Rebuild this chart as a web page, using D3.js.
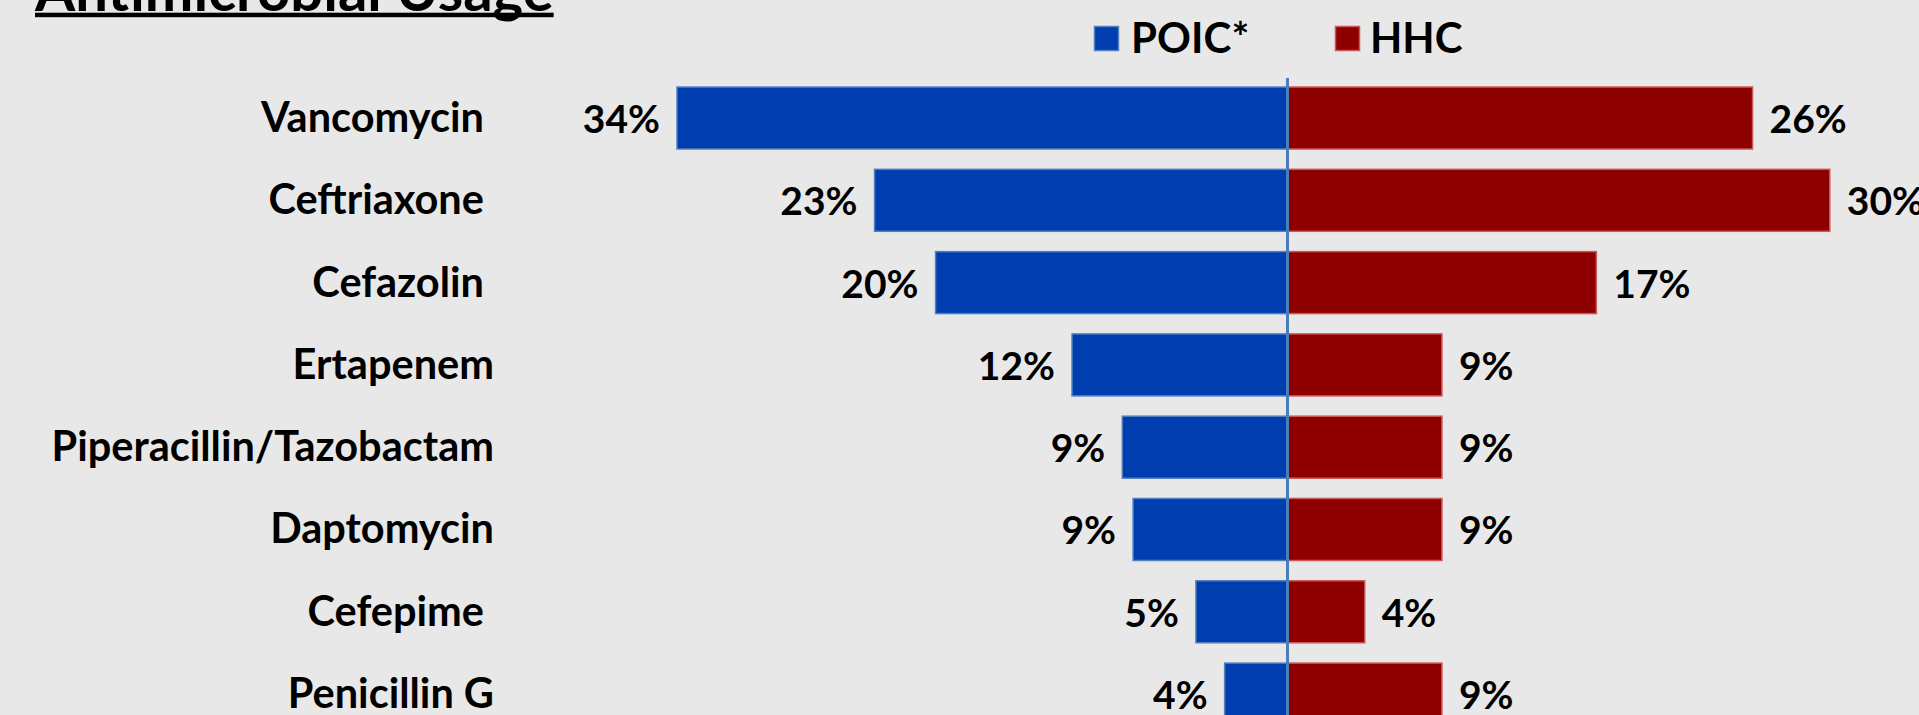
<!DOCTYPE html>
<html>
<head>
<meta charset="utf-8">
<script src="https://cdnjs.cloudflare.com/ajax/libs/d3/7.8.5/d3.min.js"></script>
<style>
  html, body { margin: 0; padding: 0; background: #e8e8e8; overflow: hidden; }
  text { font-family: Lato, "Open Sans", sans-serif; font-weight: 700; fill: #000; white-space: pre; }
</style>
</head>
<body>
<svg id="chart" width="1919" height="715"></svg>
<script>
// ---- data ----
const title = "Antimicrobial Usage";
const categories = ["Vancomycin ", "Ceftriaxone ", "Cefazolin ", "Ertapenem", "Piperacillin/Tazobactam", "Daptomycin", "Cefepime ", "Penicillin G"];
const seriesNames = ["POIC*", "HHC"];
const poicValues = [34.0, 23.0, 19.6, 12.0, 9.2, 8.6, 5.1, 3.5];
const hhcValues  = [25.9, 30.2, 17.2, 8.6, 8.6, 8.6, 4.3, 8.6];
const poicLabels = ["34%", "23%", "20%", "12%", "9%", "9%", "5%", "4%"];
const hhcLabels  = ["26%", "30%", "17%", "9%", "9%", "9%", "4%", "9%"];

// ---- layout / style ----
const W = 1919, H = 715;
const cx = 1287.5;
const colors = { poic: "#003daf", poicEdge: "#4f81bd", hhc: "#8e0000", hhcEdge: "#cc5555" };

const svg = d3.select("#chart");
svg.append("rect").attr("width", W).attr("height", H).attr("fill", "#e8e8e8");

const x = d3.scaleLinear().domain([0, 34]).range([0, 610.5]);
const y = d3.scaleBand().domain(categories).range([66.7, 745.4]).padding(0.247);

const rows = categories.map((c, i) => ({ cat: c, p: poicValues[i], h: hhcValues[i], pl: poicLabels[i], hl: hhcLabels[i] }));

// POIC bars (left)
svg.append("g").selectAll("rect").data(rows).join("rect")
  .attr("x", d => cx - x(d.p))
  .attr("y", d => y(d.cat))
  .attr("width", d => x(d.p))
  .attr("height", y.bandwidth())
  .attr("fill", colors.poic)
  .attr("stroke", colors.poicEdge)
  .attr("stroke-width", 1.5);

// HHC bars (right)
svg.append("g").selectAll("rect").data(rows).join("rect")
  .attr("x", cx)
  .attr("y", d => y(d.cat))
  .attr("width", d => x(d.h))
  .attr("height", y.bandwidth())
  .attr("fill", colors.hhc)
  .attr("stroke", colors.hhcEdge)
  .attr("stroke-width", 1.5);

// center axis line
svg.append("line")
  .attr("x1", cx).attr("x2", cx)
  .attr("y1", 78).attr("y2", H)
  .attr("stroke", "#4a7ebb").attr("stroke-width", 3);

// category labels
svg.append("g").selectAll("text").data(rows).join("text")
  .attr("x", 494)
  .attr("y", d => y(d.cat) + y.bandwidth() / 2 + 14)
  .attr("text-anchor", "end")
  .attr("font-size", 41.5)
  .text(d => d.cat);

// value labels
svg.append("g").selectAll("text").data(rows).join("text")
  .attr("x", d => cx - x(d.p) - 17)
  .attr("y", d => y(d.cat) + y.bandwidth() / 2 + 15)
  .attr("text-anchor", "end")
  .attr("font-size", 39)
  .text(d => d.pl);

svg.append("g").selectAll("text").data(rows).join("text")
  .attr("x", d => cx + x(d.h) + 17)
  .attr("y", d => y(d.cat) + y.bandwidth() / 2 + 15)
  .attr("text-anchor", "start")
  .attr("font-size", 39)
  .text(d => d.hl);

// legend
const legend = [
  { name: seriesNames[0], fill: colors.poic, edge: colors.poicEdge, x: 1094.5, tx: 1131 },
  { name: seriesNames[1], fill: colors.hhc, edge: colors.hhcEdge, x: 1335.5, tx: 1370 }
];
const lg = svg.append("g");
lg.selectAll("rect").data(legend).join("rect")
  .attr("x", d => d.x).attr("y", 26.5).attr("width", 24).attr("height", 24)
  .attr("fill", d => d.fill).attr("stroke", d => d.edge).attr("stroke-width", 1.5);
lg.selectAll("text").data(legend).join("text")
  .attr("x", d => d.tx).attr("y", 52.5)
  .attr("font-size", 42)
  .text(d => d.name);

// title (cut off at top) with underline
const t = svg.append("text")
  .attr("x", 35).attr("y", 11)
  .attr("font-size", 58)
  .attr("font-weight", 900)
  .text(title);
const tw = t.node().getComputedTextLength();
svg.append("rect")
  .attr("x", 35).attr("y", 12.7)
  .attr("width", tw).attr("height", 4.5)
  .attr("fill", "#000");
</script>
</body>
</html>
